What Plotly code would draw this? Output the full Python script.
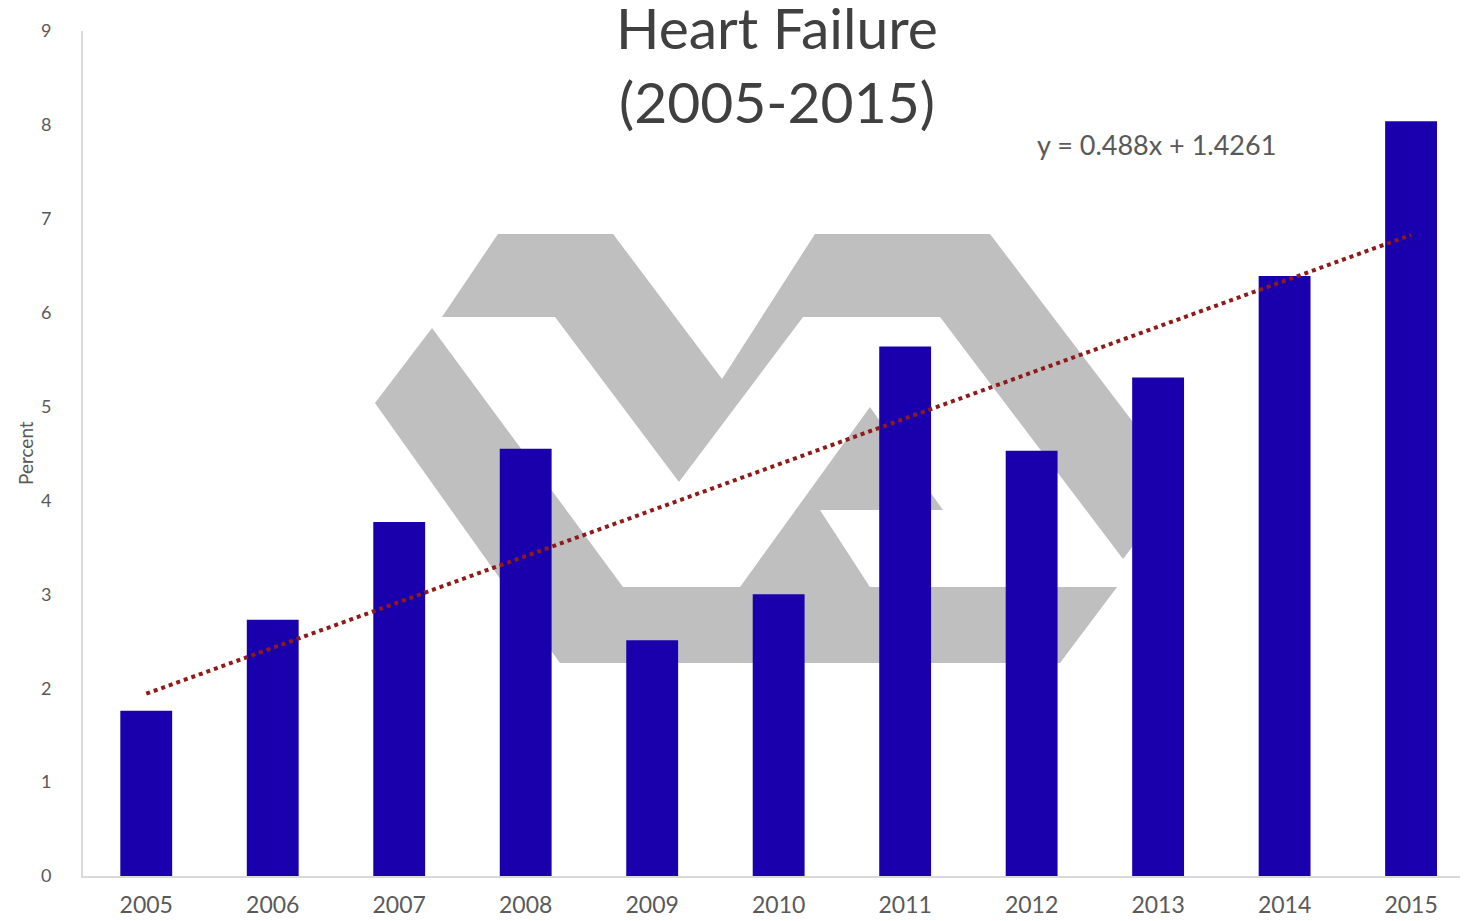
import numpy as np
import plotly.graph_objects as go

# ---- data ----
years = ["2005", "2006", "2007", "2008", "2009", "2010", "2011", "2012", "2013", "2014", "2015"]
percent = [1.76, 2.73, 3.77, 4.55, 2.51, 3.00, 5.64, 4.53, 5.31, 6.39, 8.04]
y_ticks = [0, 1, 2, 3, 4, 5, 6, 7, 8, 9]
equation_text = "y = 0.488x + 1.4261"
title_lines = ["Heart Failure", "(2005-2015)"]

# linear trend fitted on the bar values (Excel style: x = 1..n)
xi = np.arange(1, len(percent) + 1)
slope, intercept = np.polyfit(xi, percent, 1)
trend = slope * xi + intercept

# page body has an 8px margin, so the figure is sized to end at the window edge
OFF = 8
W, H = 1468 - OFF, 921 - OFF
SCR_L, SCR_T, SCR_B = 83, 31, 876          # plot area in window pixels
L, T = SCR_L - OFF, SCR_T - OFF
B = H - (SCR_B - OFF)
R = 0
PW, PH = W - L - R, H - T - B


def px_x(px):
    return (px - SCR_L) / PW


def px_y(py):
    return (SCR_B - py) / PH


def path(pts):
    return "M " + " L ".join(f"{px_x(x):.4f},{px_y(y):.4f}" for x, y in pts) + " Z"


# watermark logo (decoration), outlines in window pixels
logo_top = [(498, 234), (613, 234), (722, 379), (815, 234), (990, 234),
            (1180, 484), (1123, 559), (940, 317), (803, 317), (679, 482),
            (555, 317), (442, 317)]
logo_bottom = [(432, 328), (375, 403), (560, 663), (1060, 663), (1117, 587),
               (870, 587), (820, 510), (943, 510), (870, 407), (740, 587),
               (623, 587)]

fig = go.Figure()
fig.add_trace(go.Bar(x=years, y=percent, marker=dict(color="#1A00AC", line=dict(width=0)),
                     showlegend=False))
fig.add_trace(go.Scatter(x=years, y=trend, mode="lines",
                         line=dict(color="#8E1A1A", width=4, dash="dot"),
                         showlegend=False))

shapes = []
for poly in (logo_top, logo_bottom):
    shapes.append(dict(type="path", xref="paper", yref="paper", path=path(poly),
                       fillcolor="#BFBFBF", line=dict(width=0), layer="below"))

annotations = [
    dict(text="<br>".join(title_lines), xref="paper", yref="paper", x=px_x(777), y=px_y(-8),
         xanchor="center", yanchor="top", showarrow=False, borderpad=0,
         font=dict(family="Lato", size=57, color="#404040")),
    dict(text=equation_text, xref="paper", yref="paper", x=px_x(1156), y=px_y(145),
         xanchor="center", yanchor="middle", showarrow=False,
         font=dict(family="Lato", size=27, color="#595959")),
    dict(text="Percent", xref="paper", yref="paper", x=px_x(25), y=px_y(453),
         xanchor="center", yanchor="middle", showarrow=False, textangle=-90,
         font=dict(family="Lato", size=19, color="#595959")),
]

fig.update_layout(
    width=W, height=H,
    margin=dict(l=L, r=R, t=T, b=B, pad=0),
    paper_bgcolor="white", plot_bgcolor="white",
    bargap=0.59,
    shapes=shapes,
    annotations=annotations,
    font=dict(family="Lato", color="#595959"),
)
fig.update_xaxes(type="category", range=[-0.5, 10.45], showgrid=False, zeroline=False,
                 showline=True, linecolor="#D9D9D9", linewidth=2, ticks="",
                 tickfont=dict(family="Lato", size=23, color="#595959"),
                 ticklabelstandoff=7)
fig.update_yaxes(range=[0, 9], tickvals=y_ticks, showgrid=False, zeroline=False,
                 showline=True, linecolor="#D9D9D9", linewidth=2, ticks="",
                 tickfont=dict(family="Lato", size=18, color="#595959"),
                 ticklabelstandoff=26)

fig.write_html("out.html")
